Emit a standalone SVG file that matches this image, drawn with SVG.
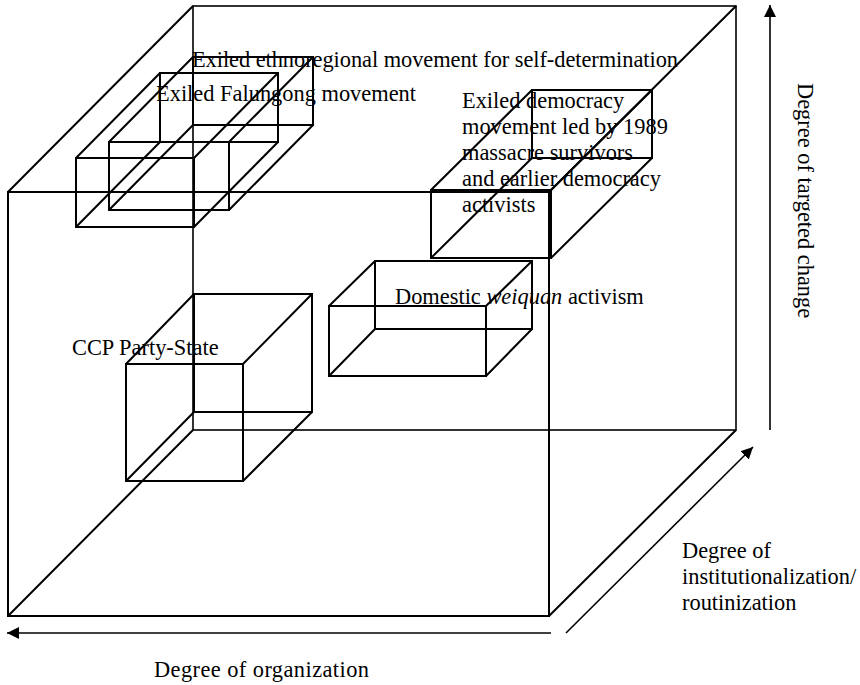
<svg xmlns="http://www.w3.org/2000/svg" width="860" height="685" viewBox="0 0 860 685">
<defs>
<marker id="ah" markerUnits="userSpaceOnUse" markerWidth="14" markerHeight="12" refX="12" refY="6" orient="auto">
<path d="M0,0 L12,6 L0,12 z" fill="#000"/>
</marker>
<style>
.fr{fill:none;stroke:#000;stroke-width:2}
.bk{fill:none;stroke:#000;stroke-width:1.6}
.bx{fill:none;stroke:#000;stroke-width:2}
.ax{fill:none;stroke:#000;stroke-width:1.6}
text{font-family:"Liberation Serif","Times New Roman",serif;font-size:22.4px;fill:#000}
</style>
</defs>
<rect width="860" height="685" fill="#fff"/>

<g id="frame">
<rect class="bk" x="193" y="6" width="543" height="424"/>
<rect class="fr" x="8" y="192" width="541" height="424"/>
<path class="fr" d="M8,192 L193,6 M549,192 L736,6 M549,616 L736,430 M8,616 L193,430"/>
</g>

<g id="ethnoregional">
<rect class="bx" x="193" y="57" width="120" height="68"/>
<rect class="bx" x="109" y="142" width="120" height="68"/>
<path class="bx" d="M109,142 L193,57 M229,142 L313,57 M229,210 L313,125 M109,210 L193,125"/>
<text x="192" y="67" textLength="486" lengthAdjust="spacing">Exiled ethnoregional movement for self-determination</text>
</g>

<g id="falungong">
<rect class="bx" x="160" y="73" width="118" height="69"/>
<rect class="bx" x="76" y="158" width="118" height="69"/>
<path class="bx" d="M76,158 L160,73 M194,158 L278,73 M194,227 L278,142 M76,227 L160,142"/>
<text x="156" y="101" textLength="260" lengthAdjust="spacing">Exiled Falungong movement</text>
</g>

<g id="democracy">
<rect class="bx" x="532" y="90" width="120" height="68"/>
<rect class="bx" x="431" y="190" width="120" height="68"/>
<path class="bx" d="M431,190 L532,90 M551,190 L652,90 M551,258 L652,158 M431,258 L532,158"/>
<text x="462" y="108">Exiled democracy</text>
<text x="462" y="134">movement led by 1989</text>
<text x="462" y="160">massacre survivors</text>
<text x="462" y="186">and earlier democracy</text>
<text x="462" y="212">activists</text>
</g>

<g id="weiquan">
<rect class="bx" x="375" y="261" width="157" height="68"/>
<rect class="bx" x="329" y="306" width="157" height="70"/>
<path class="bx" d="M329,306 L375,261 M486,306 L532,261 M486,376 L532,329 M329,376 L375,329"/>
<text x="395" y="304">Domestic <tspan font-style="italic">weiquan</tspan> activism</text>
</g>

<g id="ccp">
<rect class="bx" x="194" y="294" width="118" height="118"/>
<rect class="bx" x="126" y="364" width="117" height="117"/>
<path class="bx" d="M126,364 L194,294 M243,364 L312,294 M243,481 L312,412 M126,481 L194,412"/>
<text x="72" y="355">CCP Party-State</text>
</g>

<g id="connectors">
<line class="ax" x1="770" y1="430" x2="770" y2="5" marker-end="url(#ah)"/>
<line class="ax" x1="551" y1="633" x2="7" y2="633" marker-end="url(#ah)"/>
<line class="ax" x1="566" y1="633" x2="753" y2="447" marker-end="url(#ah)"/>
</g>

<g id="axis-labels">
<text transform="translate(798,83) rotate(90)">Degree of targeted change</text>
<text x="682" y="558">Degree of</text>
<text x="682" y="584">institutionalization/</text>
<text x="682" y="610">routinization</text>
<text x="154" y="677" textLength="215" lengthAdjust="spacing">Degree of organization</text>
</g>
</svg>
